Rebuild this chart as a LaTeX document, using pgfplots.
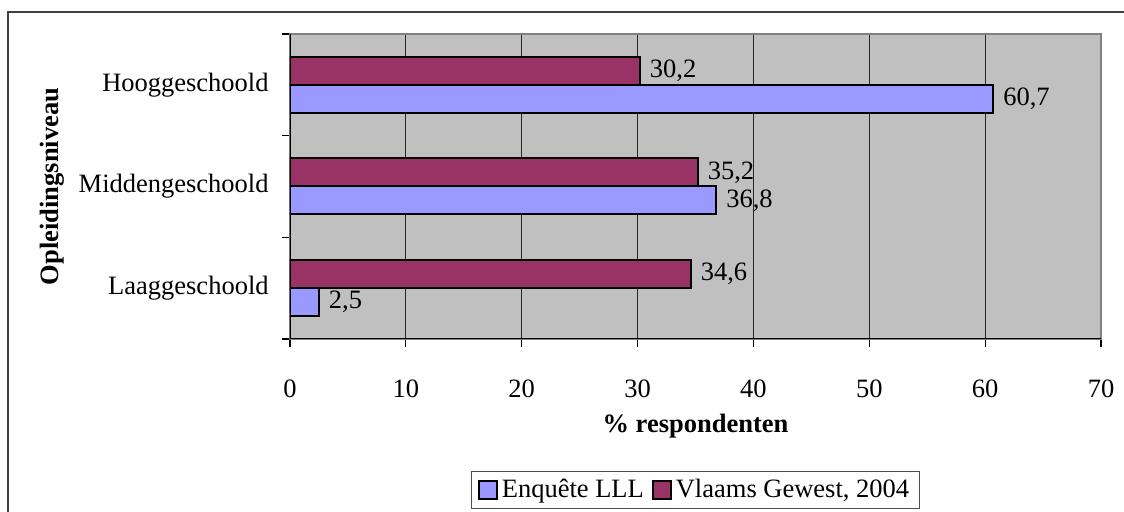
\documentclass[border=0pt]{standalone}
\usepackage{pgfplots}
\pgfplotsset{compat=1.18}
\usepackage{fontspec}
\setmainfont{Liberation Serif}
\definecolor{cblue}{HTML}{9999FF}
\definecolor{cmaroon}{HTML}{993366}
\definecolor{cbg}{HTML}{C0C0C0}
\begin{document}
\fontsize{13.25}{15}\selectfont
\begin{tikzpicture}
\useasboundingbox (0,0) rectangle (562pt,256pt);
\draw[line width=1pt, draw=black!75] (3.75pt,-20pt) rectangle (600pt,249.75pt);
\begin{axis}[
  at={(145pt,86.5pt)}, anchor=south west,
  scale only axis, width=405.5pt, height=152.5pt,
  xbar, bar width=14pt,
  xmin=0, xmax=70, ymin=-0.5, ymax=2.5,
  xtick={0,10,...,70},
  /pgf/number format/assume math mode=true,
  xmajorgrids, grid style={black!85, line width=0.5pt},
  tick align=outside, major tick length=4pt, tick pos=left,
  tick style={black, line width=0.6pt},
  ytick={-0.5,0.5,1.5,2.5}, yticklabels={},
  extra y ticks={0,1,2},
  extra y tick labels={Laaggeschoold,Middengeschoold,Hooggeschoold},
  extra y tick style={major tick length=0pt},
  yticklabel style={anchor=east, inner sep=0pt, xshift=-10.5pt},
  xticklabel style={anchor=north, inner sep=0pt, yshift=-16pt},
  axis background/.style={fill=cbg},
  axis line style={draw=black!50, line width=0.6pt},
  xlabel={\bfseries \% respondenten},
  xlabel style={at={(axis description cs:0.5,-0.305)}, anchor=base},
  ylabel={\bfseries Opleidingsniveau},
  ylabel style={at={(axis description cs:-0.2935,0.5)}, anchor=center, rotate=0},
  point meta=x,
  nodes near coords={\pgfmathprintnumber[fixed,fixed zerofill,precision=1,use comma]{\pgfplotspointmeta}},
  nodes near coords style={anchor=west, inner sep=0pt, xshift=4.5pt, black},
  legend columns=2,
  legend style={at={(0.5,-0.495)}, anchor=center, draw=black!70, line width=0.5pt,
    inner xsep=3pt, inner ysep=2.5pt,
    nodes={inner xsep=2pt, inner ysep=1pt},
    /tikz/every even column/.append style={column sep=2pt}},
  mylegend/.style={legend image code/.code={\draw[##1, draw=black, line width=1pt] (0pt,-4.5pt) rectangle (9pt,4.5pt);}},
]
\addplot+[xbar, bar shift=-7pt, fill=cblue, draw=black, line width=1pt, mylegend] coordinates {(2.5,0) (36.8,1) (60.7,2)};
\addlegendentry{Enquête LLL}
\addplot+[xbar, bar shift=7pt, fill=cmaroon, draw=black, line width=1pt, mylegend] coordinates {(34.6,0) (35.2,1) (30.2,2)};
\addlegendentry{Vlaams Gewest, 2004}
\draw[black, line width=0.8pt] (rel axis cs:0,1) -- (rel axis cs:0,0) -- (rel axis cs:1,0);
\end{axis}
\end{tikzpicture}
\end{document}
